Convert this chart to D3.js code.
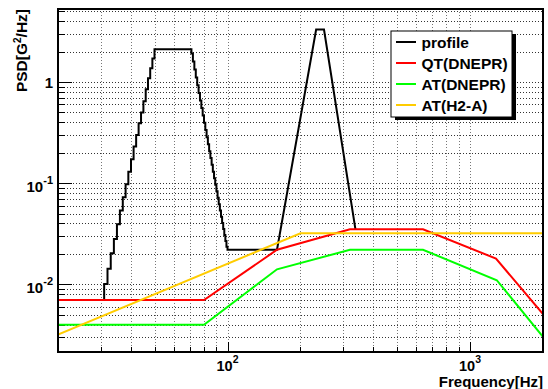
<!DOCTYPE html>
<html>
<head>
<meta charset="utf-8">
<script src="https://cdn.jsdelivr.net/npm/d3@7"></script>
<style>
  html, body { margin: 0; padding: 0; background: #fff; }
  svg { display: block; }
  text { font-family: "Liberation Sans", Arial, Helvetica, sans-serif; font-weight: bold; fill: #000; }
</style>
</head>
<body>
<svg id="chart" width="548" height="389"></svg>
<script>
// ---------------- data ----------------
const xDomain = [20, 2000];
const yDomain = [0.00215, 5.26];

// profile: 1 Hz histogram bins (step after) in the low-frequency part
const profileStepHz = [20, 31, 32, 33, 34, 35, 36, 37, 38, 39, 40, 41, 42, 43, 44, 45, 46, 47, 48, 49, 50,
  71, 72, 73, 74, 75, 76, 77, 78, 79, 80, 81, 82, 83, 84, 85, 86, 87, 88, 89, 90,
  91, 92, 93, 94, 95, 96, 97, 98, 99, 100];
const profileStepPSD = [0.007, 0.0101, 0.0143, 0.0203, 0.0281, 0.0393, 0.0536, 0.0725, 0.0975, 0.130, 0.172,
  0.230, 0.300, 0.390, 0.500, 0.644, 0.85, 1.09, 1.37, 1.71, 2.1,
  1.91, 1.59, 1.33, 1.11, 0.927, 0.779, 0.655, 0.552, 0.466, 0.395, 0.335, 0.285, 0.243, 0.207, 0.177, 0.152,
  0.130, 0.112, 0.0963, 0.0831, 0.0718, 0.0620, 0.0537, 0.0466, 0.0405, 0.0353, 0.0307, 0.0268, 0.0235, 0.022];
// profile: second (narrow) peak, straight segments
const profilePeakHz = [160, 232, 250, 337];
const profilePeakPSD = [0.022, 3.3, 3.3, 0.035];

const qtHz = [20, 80, 160, 320, 640, 1280, 2000];
const qtPSD = [0.007, 0.007, 0.022, 0.035, 0.035, 0.018, 0.0051];

const atDneprHz = [20, 80, 160, 320, 640, 1290, 2000];
const atDneprPSD = [0.004, 0.004, 0.0141, 0.022, 0.022, 0.011, 0.00304];

const atH2aHz = [20, 200, 2000];
const atH2aPSD = [0.0032, 0.032, 0.032];

const seriesNames = ["profile", "QT(DNEPR)", "AT(DNEPR)", "AT(H2-A)"];
const seriesColors = ["#000000", "#ff0000", "#00ff00", "#ffcc00"];

const xMajorTicks = [100, 1000];
const xMajorLabels = ["2", "3"];          // exponents for 10^n
const yMajorTicks = [0.01, 0.1, 1];
const yMajorLabels = ["-2", "-1", ""];    // "" -> plain "1"

// ---------------- layout ----------------
const frame = { left: 58, right: 543, top: 9, bottom: 352 };
const svg = d3.select("#chart");

const x = d3.scaleLog().domain(xDomain).range([frame.left, frame.right]);
const y = d3.scaleLog().domain(yDomain).range([frame.bottom, frame.top]);

// all minor+major tick values
function logTicks(lo, hi) {
  const out = [];
  for (let d = Math.floor(Math.log10(lo)); d <= Math.ceil(Math.log10(hi)); d++) {
    for (let k = 1; k <= 9; k++) {
      const v = k * Math.pow(10, d);
      if (v >= lo * 0.9999 && v <= hi * 1.0001) out.push(v);
    }
  }
  return out;
}
const xTicks = logTicks(xDomain[0], xDomain[1]);
const yTicks = logTicks(yDomain[0], yDomain[1]);
const isMajor = v => Math.abs(Math.log10(v) - Math.round(Math.log10(v))) < 1e-9;

// grid
const grid = svg.append("g");
grid.selectAll("line.gx").data(xTicks.filter(v => v > xDomain[0] && v < xDomain[1]))
  .join("line").attr("class", "gx")
  .attr("x1", d => Math.round(x(d)) + 0.5).attr("x2", d => Math.round(x(d)) + 0.5)
  .attr("y1", frame.top).attr("y2", frame.bottom)
  .attr("stroke", "#777").attr("stroke-width", 1).attr("stroke-dasharray", "1,2");
grid.selectAll("line.gy").data(yTicks)
  .join("line").attr("class", "gy")
  .attr("y1", d => Math.round(y(d)) + 0.5).attr("y2", d => Math.round(y(d)) + 0.5)
  .attr("x1", frame.left).attr("x2", frame.right)
  .attr("stroke", "#333").attr("stroke-width", 1).attr("stroke-dasharray", "1,2");

// tick marks (inside)
const ticks = svg.append("g").attr("stroke", "#000");
ticks.selectAll("line.tx").data(xTicks)
  .join("line").attr("class", "tx")
  .attr("x1", d => Math.round(x(d)) + 0.5).attr("x2", d => Math.round(x(d)) + 0.5)
  .attr("y1", frame.bottom).attr("y2", d => frame.bottom - (isMajor(d) ? 10 : 5))
  .attr("stroke-width", 1);
ticks.selectAll("line.ty").data(yTicks)
  .join("line").attr("class", "ty")
  .attr("y1", d => Math.round(y(d)) + 0.5).attr("y2", d => Math.round(y(d)) + 0.5)
  .attr("x1", frame.left).attr("x2", d => frame.left + (isMajor(d) ? 14 : 7))
  .attr("stroke-width", 1);

// clip
svg.append("clipPath").attr("id", "clip").append("rect")
  .attr("x", frame.left).attr("y", frame.top)
  .attr("width", frame.right - frame.left).attr("height", frame.bottom - frame.top);

const line = d3.line().x(d => x(d[0])).y(d => y(d[1]));
const plot = svg.append("g").attr("clip-path", "url(#clip)");

// profile: step part then the peak
const profilePts = [];
profileStepHz.forEach((f, i) => {
  if (i > 0) profilePts.push([f, profileStepPSD[i - 1]]);
  profilePts.push([f, profileStepPSD[i]]);
});
profilePeakHz.forEach((f, i) => profilePts.push([f, profilePeakPSD[i]]));

const seriesData = [
  profilePts,
  qtHz.map((f, i) => [f, qtPSD[i]]),
  atDneprHz.map((f, i) => [f, atDneprPSD[i]]),
  atH2aHz.map((f, i) => [f, atH2aPSD[i]])
];
seriesData.forEach((pts, i) => {
  plot.append("path").attr("d", line(pts))
    .attr("fill", "none").attr("stroke", seriesColors[i])
    .attr("stroke-width", 2).attr("stroke-linejoin", "miter");
});

// frame
svg.append("rect").attr("x", frame.left).attr("y", frame.top)
  .attr("width", frame.right - frame.left).attr("height", frame.bottom - frame.top)
  .attr("fill", "none").attr("stroke", "#000").attr("stroke-width", 2);

// y tick labels
yMajorTicks.forEach((v, i) => {
  const t = svg.append("text").attr("text-anchor", "end").attr("font-size", 15);
  if (yMajorLabels[i] === "") {
    t.attr("x", 53).attr("y", y(v) + 6).text("1");
  } else {
    t.attr("x", 53).attr("y", y(v) + 9);
    t.append("tspan").text("10");
    t.append("tspan").attr("dy", -8).attr("font-size", 11).text(yMajorLabels[i]);
  }
});

// x tick labels
xMajorTicks.forEach((v, i) => {
  const t = svg.append("text").attr("text-anchor", "middle").attr("font-size", 14.5)
    .attr("x", x(v)).attr("y", 371);
  t.append("tspan").text("10");
  t.append("tspan").attr("dy", -8).attr("font-size", 10.5).text(xMajorLabels[i]);
});

// axis titles
svg.append("text").attr("text-anchor", "end").attr("font-size", 15)
  .attr("x", frame.right).attr("y", 387).text("Frequency[Hz]");
const yt = svg.append("text").attr("text-anchor", "end").attr("font-size", 15.5)
  .attr("transform", `translate(27, ${frame.top}) rotate(-90)`);
yt.append("tspan").text("PSD[G");
yt.append("tspan").attr("dy", -6).attr("font-size", 10).text("2");
yt.append("tspan").attr("dy", 6).text("/Hz]");

// legend
const lg = { x: 391, y: 31, w: 121, h: 86 };
svg.append("rect").attr("x", lg.x + 4).attr("y", lg.y + 3).attr("width", lg.w).attr("height", lg.h).attr("fill", "#000");
svg.append("rect").attr("x", lg.x).attr("y", lg.y).attr("width", lg.w).attr("height", lg.h)
  .attr("fill", "#fff").attr("stroke", "#000").attr("stroke-width", 1);
seriesNames.forEach((name, i) => {
  const cy = 42 + i * 21;
  svg.append("line").attr("x1", 396).attr("x2", 416).attr("y1", cy).attr("y2", cy)
    .attr("stroke", seriesColors[i]).attr("stroke-width", 2);
  svg.append("text").attr("x", 421.5).attr("y", cy + 5.5).attr("font-size", 15.5).text(name);
});
</script>
</body>
</html>
